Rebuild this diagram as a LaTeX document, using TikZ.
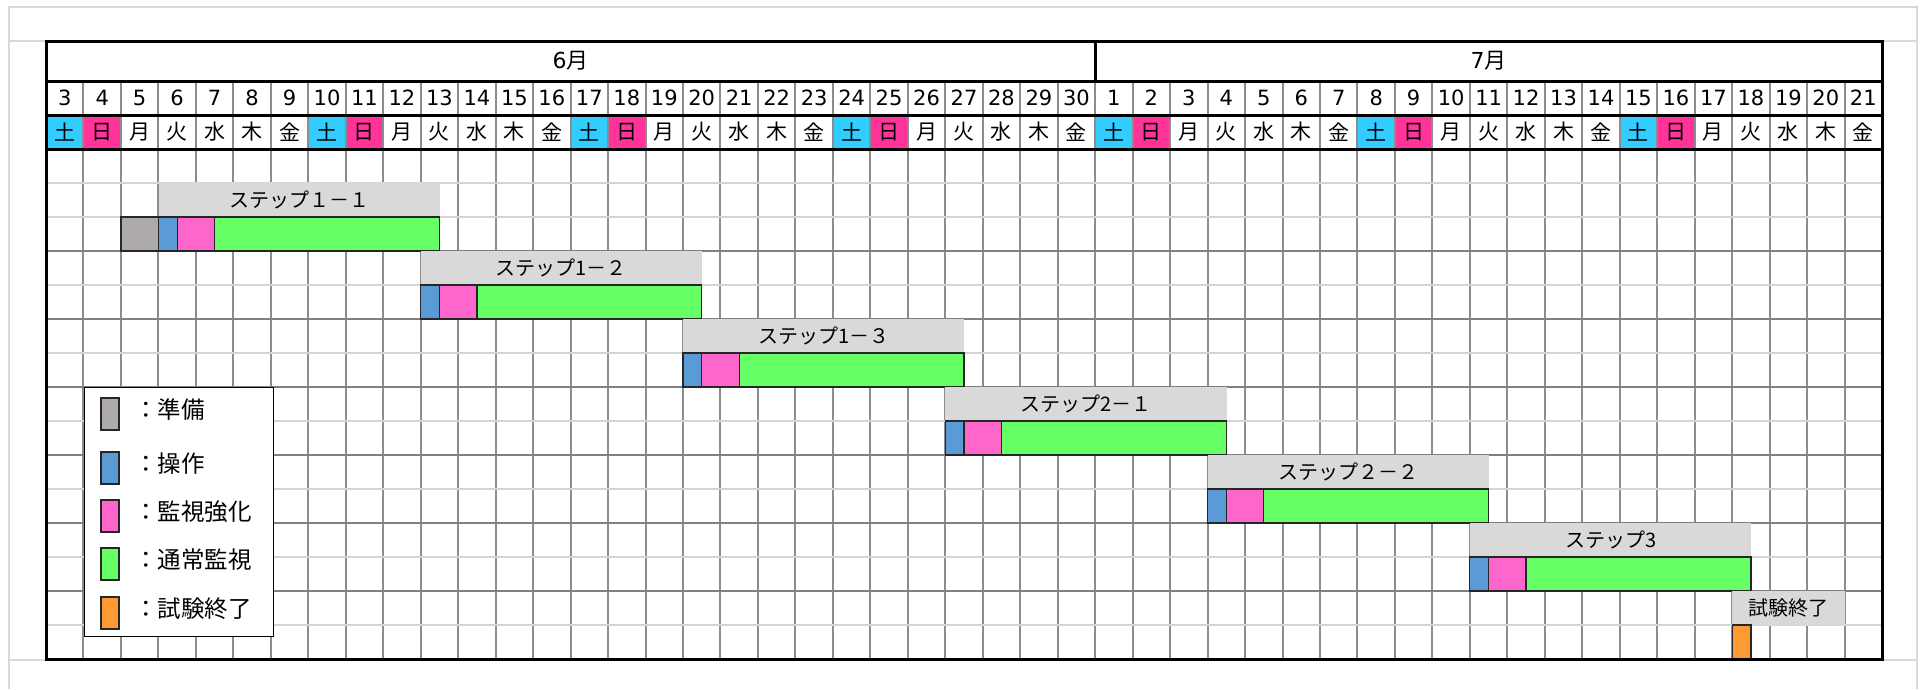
\documentclass[tikz,border=0pt]{standalone}
\usepackage{fontspec}
\setmainfont{DejaVu Sans}
\newfontfamily\jp{Noto Sans CJK JP}
\usetikzlibrary{positioning}

\definecolor{satcol}{HTML}{33CCFF}
\definecolor{suncol}{HTML}{FF3399}
\definecolor{prepcol}{HTML}{AEAAAA}
\definecolor{opcol}{HTML}{5B9BD5}
\definecolor{watchcol}{HTML}{FF66CC}
\definecolor{normcol}{HTML}{66FF66}
\definecolor{endcol}{HTML}{FF9933}
\definecolor{labcol}{HTML}{D9D9D9}

\newcommand{\colw}{37.47}% one day
\newcommand{\wday}[1]{\ifcase#1 土\or 日\or 月\or 火\or 水\or 木\or 金\fi}

\begin{document}
\begin{tikzpicture}[x=1pt, y=-1pt, font=\fontsize{20}{24}\selectfont, sheet/.style={draw=black!15, line width=2pt}, colline/.style={draw=black!45, line width=2pt}, rowline/.style={draw=black!17, line width=2pt}, pairline/.style={draw=black!50, line width=2pt}, border/.style={draw=black, line width=3pt}, bar/.style={draw=black!85, line width=1.2pt}, tag/.style={fill=labcol, inner sep=0pt, minimum height=34, anchor=west}, cell/.style={inner sep=0pt, font=\fontsize{21}{24}\selectfont}]
\useasboundingbox (0,0) rectangle (1932,689);
% sheet frame
\draw[sheet] (9,689) -- (9,7) -- (1917,7) -- (1917,689);
\draw[sheet] (9,41) -- (1917,41);
\draw[sheet] (9,660) -- (1917,660);
% weekends
\foreach \i in {0,7,...,42} {
  \fill[satcol] ({46+\i*\colw},115) rectangle ({46+(\i+1)*\colw},149);
  \fill[suncol] ({46+(\i+1)*\colw},115) rectangle ({46+(\i+2)*\colw},149);
}
% grid
\foreach \i in {1,...,48} \draw[colline] ({46+\i*\colw},81) -- ({46+\i*\colw},659);
\draw[rowline] (46,183) -- (1882,183);
\foreach \r in {0,...,6} \draw[rowline] (46,{217+68*\r}) -- (1882,{217+68*\r});
\foreach \r in {0,...,5} \draw[pairline] (46,{251+68*\r}) -- (1882,{251+68*\r});
% header
\node[font=\fontsize{22}{26}\selectfont] (jun) at ({46+14*\colw},61) {6{\jp 月}};
\node[font=\fontsize{22}{26}\selectfont] (jul) at ({46+38.5*\colw},61) {7{\jp 月}};
\foreach \d [count=\i from 0] in {3,...,30} \node[cell] (d\i) at ({46+(\i+0.5)*\colw},98) {\d};
\foreach \d [count=\i from 28] in {1,...,21} \node[cell] (d\i) at ({46+(\i+0.5)*\colw},98) {\d};
\foreach \i in {0,...,48} {
  \pgfmathtruncatemacro\m{mod(\i,7)}
  \node[cell] (w\i) at ({46+(\i+0.5)*\colw},132) {\jp\wday{\m}};
}
% steps
\foreach \s/\k/\tx in {3/0/ステップ１－１, 10/1/ステップ1－２, 17/2/ステップ1－３, 24/3/ステップ2－１, 31/4/ステップ２－２, 38/5/ステップ3} {
  \pgfmathsetmacro\xa{46+\s*\colw}
  \pgfmathsetmacro\yt{183+68*\k}
  \node[tag, minimum width=7.5*\colw] (lab\k) at (\xa,{\yt+17}) {\jp\tx};
  \draw[bar, fill=opcol] (\xa,{\yt+34}) rectangle ++(0.5*\colw,34);
  \draw[bar, fill=watchcol] ({\xa+0.5*\colw},{\yt+34}) rectangle ++(\colw,34);
  \draw[bar, fill=normcol] ({\xa+1.5*\colw},{\yt+34}) rectangle ++(6*\colw,34);
}
\draw[bar, fill=prepcol] ({46+2*\colw},217) rectangle ++(\colw,34);
\node[tag, minimum width=3*\colw] (endlab) at ({46+45*\colw},608) {\jp 試験終了};
\draw[bar, fill=endcol] ({46+45*\colw},625) rectangle ++(0.5*\colw,34);
% legend
\node[draw, fill=white, line width=1.2pt, minimum width=189, minimum height=249, anchor=north west, inner sep=0pt] (legend) at (84,387) {};
\foreach \yy/\c/\t in {398/prepcol/準備, 452/opcol/操作, 500/watchcol/監視強化, 548/normcol/通常監視, 597/endcol/試験終了} {
  \draw[bar, fill=\c] (101,\yy) rectangle ++(18,32);
  \node[anchor=west, inner sep=0pt, font=\jp\fontsize{23.5}{26}\selectfont] (key\c) at (134,{\yy+12}) {：\t};
}
% table lines
\draw[border] (46,81) -- (1882,81);
\draw[border] (46,115) -- (1882,115);
\draw[border] (46,149) -- (1882,149);
\draw[border] ({46+28*\colw},41) -- ({46+28*\colw},81);
\draw[border] (46,41) rectangle (1882,659);
\end{tikzpicture}
\end{document}
